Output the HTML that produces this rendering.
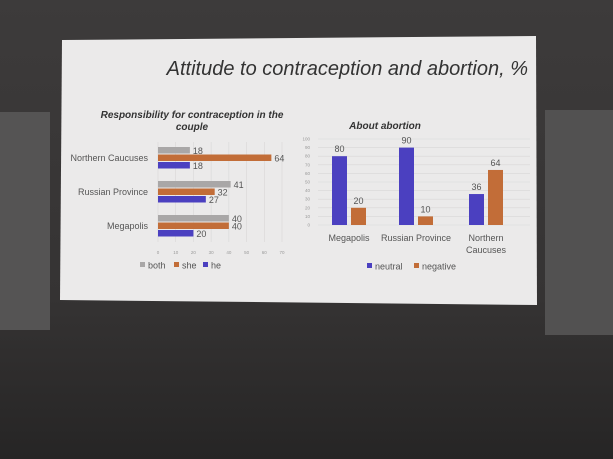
<!DOCTYPE html>
<html><head><meta charset="utf-8"><style>
html,body{margin:0;padding:0;width:613px;height:459px;overflow:hidden;background:#2f2e2e}
svg{display:block;font-family:"Liberation Sans",sans-serif}
</style></head><body>
<svg id="s" width="613" height="459" viewBox="0 0 613 459">
<defs><linearGradient id="bg" x1="0" y1="0" x2="0" y2="1"><stop offset="0" stop-color="#3d3b3b"/><stop offset="0.65" stop-color="#353333"/><stop offset="1" stop-color="#262525"/></linearGradient></defs>
<rect width="613" height="459" fill="url(#bg)"/>
<rect x="0" y="112" width="50" height="218" fill="#555454"/>
<rect x="545" y="110" width="68" height="225" fill="#525151"/>
<polygon points="62,40 536,36 537,305 60,300" fill="#ebeaea"/>
<text x="528" y="75" font-size="20" font-style="italic" fill="#333" text-anchor="end">Attitude to contraception and abortion, %</text>
<text x="192" y="118" font-size="10" font-weight="bold" font-style="italic" fill="#333" text-anchor="middle">Responsibility for contraception in the</text>
<text x="192" y="130" font-size="10" font-weight="bold" font-style="italic" fill="#333" text-anchor="middle">couple</text>
<text x="385" y="129" font-size="10" font-weight="bold" font-style="italic" fill="#333" text-anchor="middle">About abortion</text>
<g id="left"></g><g id="right"></g>
</svg>
<script>
const hCats=["Northern Caucuses","Russian Province","Megapolis"];
const bothVals=[18,41,40];
const sheVals=[64,32,40];
const heVals=[18,27,20];
const hTicks=[0,10,20,30,40,50,60,70];
const vCats=[["Megapolis"],["Russian Province"],["Northern","Caucuses"]];
const neutralVals=[80,90,36];
const negativeVals=[20,10,64];
const vTicks=[0,10,20,30,40,50,60,70,80,90,100];
const NS="http://www.w3.org/2000/svg";
function mk(p,t,a,txt){const e=document.createElementNS(NS,t);for(const k in a)e.setAttribute(k,a[k]);if(txt!==undefined)e.textContent=txt;p.appendChild(e);return e;}
const C={both:"#a9a7a7",she:"#c26d38",he:"#4b40c0"};
const L=document.getElementById('left');
const xs=v=>158+v*(124/70);
hTicks.forEach(t=>{const g=mk(L,'line',{x1:xs(t),x2:xs(t),y1:142,y2:242,stroke:'#d8d7d7','stroke-width':0.6});

const e=mk(L,'text',{x:xs(t),y:254,'font-size':4.5,fill:'#999','text-anchor':'middle'},t);
});
const gy=[147,181,215];
hCats.forEach((c,i)=>{
 const lab=mk(L,'text',{x:148,y:gy[i]+14,'font-size':9,fill:'#555','text-anchor':'end'},c);
 
 [[bothVals,'both'],[sheVals,'she'],[heVals,'he']].forEach(([arr,k],j)=>{
  const y=gy[i]+j*7.5;
  const r=mk(L,'rect',{x:xs(0),y:y,width:xs(arr[i])-xs(0),height:6.5,fill:C[k]});
  
  const t=mk(L,'text',{x:xs(arr[i])+3,y:y+7,'font-size':9,fill:'#555'},arr[i]);
  
 });
});
[['both',140],['she',174],['he',203]].forEach(([k,x])=>{
 const r=mk(L,'rect',{x:x,y:262,width:5,height:5,fill:C[k]});
 const t=mk(L,'text',{x:x+8,y:268.5,'font-size':9,fill:'#555'},k);
});
const R=document.getElementById('right');
const ys=v=>225-v*0.86;
vTicks.forEach(t=>{const g=mk(R,'line',{x1:318,x2:530,y1:ys(t),y2:ys(t),stroke:'#d8d7d7','stroke-width':0.6});

const e=mk(R,'text',{x:310,y:ys(t)+1.5,'font-size':4.5,fill:'#999','text-anchor':'end'},t);
});
const gx=[349,416,486];
vCats.forEach((c,i)=>{
 c.forEach((ln,k)=>{const t=mk(R,'text',{x:gx[i],y:241+k*12,'font-size':9,fill:'#555','text-anchor':'middle'},ln);
 });
 [[neutralVals,'#4b40c0',-17],[negativeVals,'#c26d38',2]].forEach(([arr,col,off])=>{
  const r=mk(R,'rect',{x:gx[i]+off,y:ys(arr[i]),width:15,height:ys(0)-ys(arr[i]),fill:col});
  
  const t=mk(R,'text',{x:gx[i]+off+7.5,y:ys(arr[i])-4,'font-size':9,fill:'#555','text-anchor':'middle'},arr[i]);
  
 });
});
[['neutral','#4b40c0',367],['negative','#c26d38',414]].forEach(([k,col,x])=>{
 const r=mk(R,'rect',{x:x,y:263,width:5,height:5,fill:col});
 const t=mk(R,'text',{x:x+8,y:269.5,'font-size':9,fill:'#555'},k);
});
</script>
</body></html>
